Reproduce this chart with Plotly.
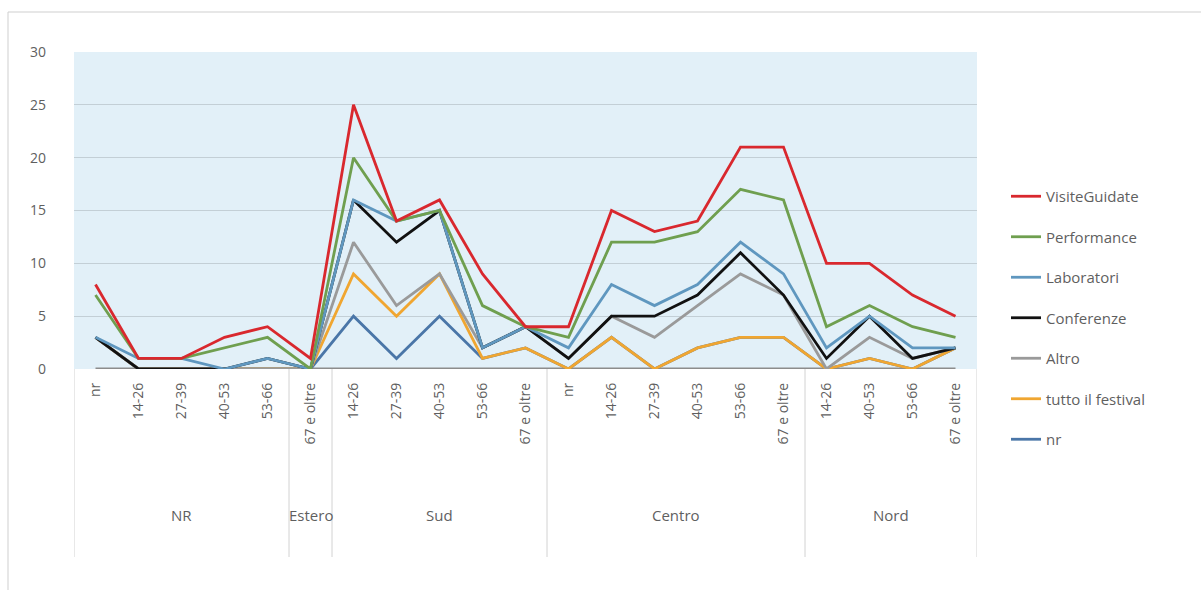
import plotly.graph_objects as go

# Region / age-band categories (two-level x axis)
regions = ["NR"] * 5 + ["Estero"] + ["Sud"] * 5 + ["Centro"] * 6 + ["Nord"] * 4
age_bands = ["nr", "14-26", "27-39", "40-53", "53-66",
             "67 e oltre",
             "14-26", "27-39", "40-53", "53-66", "67 e oltre",
             "nr", "14-26", "27-39", "40-53", "53-66", "67 e oltre",
             "14-26", "40-53", "53-66", "67 e oltre"]

# Counts per activity (stacked line series, bottom to top)
nr_vals            = [3, 0, 0, 0, 0, 0, 5, 1, 5, 1, 2, 0, 3, 0, 2, 3, 3, 0, 1, 0, 2]
tutto_il_festival  = [0, 0, 0, 0, 0, 0, 4, 4, 4, 0, 0, 0, 0, 0, 0, 0, 0, 0, 0, 0, 0]
altro              = [0, 0, 0, 0, 0, 0, 3, 1, 0, 1, 2, 1, 2, 3, 4, 6, 4, 0, 2, 1, 0]
conferenze         = [0, 0, 0, 0, 1, 0, 4, 6, 6, 0, 0, 0, 0, 2, 1, 2, 0, 1, 2, 0, 0]
laboratori         = [0, 1, 1, 0, 0, 0, 0, 2, 0, 0, 0, 1, 3, 1, 1, 1, 2, 1, 0, 1, 0]
performance        = [4, 0, 0, 2, 2, 0, 4, 0, 0, 4, 0, 1, 4, 6, 5, 5, 7, 2, 1, 2, 1]
visite_guidate     = [1, 0, 0, 1, 1, 1, 5, 0, 1, 3, 0, 1, 3, 1, 1, 4, 5, 6, 4, 3, 2]

series = [
    ("nr", nr_vals, "#4a76a8"),
    ("tutto il festival", tutto_il_festival, "#f0a631"),
    ("Altro", altro, "#9a9a9a"),
    ("Conferenze", conferenze, "#111111"),
    ("Laboratori", laboratori, "#5f97bf"),
    ("Performance", performance, "#6f9f4f"),
    ("VisiteGuidate", visite_guidate, "#d9282e"),
]

FONT = "Open Sans"
TXT = "#5f5f5f"

# unique category keys: "region|age band"
keys = [f"{r}|{a}" for r, a in zip(regions, age_bands)]
n = len(keys)

fig = go.Figure()
for rank, (name, vals, color) in zip(range(len(series), 0, -1), series):
    fig.add_trace(go.Scatter(
        x=keys, y=vals, name=name,
        mode="lines", stackgroup="act", fill="none",
        line=dict(color=color, width=2.8),
        legendgroup=name, legendrank=rank,
    ))

# plot area spans pixels x 74..977, y 52..369
L, R, T, B = 74, 977, 52, 369
W, H = 1201, 590
def px(xp):
    return (xp - L) / (R - L)
def py(yp):
    return (B - yp) / (B - T)

# group spans along the category axis
groups = []
for i, r in enumerate(regions):
    if groups and groups[-1][0] == r:
        groups[-1][2] = i
    else:
        groups.append([r, i, i])

shapes = [
    # outer frame
    dict(type="line", xref="paper", yref="paper",
         x0=px(8), x1=px(1201), y0=py(12), y1=py(12),
         line=dict(color="#cfcfcf", width=1)),
    dict(type="line", xref="paper", yref="paper",
         x0=px(8), x1=px(8), y0=py(12), y1=py(590),
         line=dict(color="#cfcfcf", width=1)),
    # heavy baseline under the series
    dict(type="line", xref="x", yref="y", x0=0, x1=n - 1, y0=0, y1=0,
         line=dict(color="#8c8c8c", width=3), layer="below"),
]
annotations = []
bounds = [g[1] - 0.5 for g in groups] + [groups[-1][2] + 0.5]
for b in bounds:
    shapes.append(dict(type="line", xref="x", yref="paper", x0=b, x1=b,
                       y0=0, y1=py(557), line=dict(color="#d2d2d2", width=1)))
for name, i0, i1 in groups:
    annotations.append(dict(
        x=(i0 + i1) / 2, y=py(515), xref="x", yref="paper",
        text=name, showarrow=False, xanchor="center", yanchor="middle",
        font=dict(family=FONT, size=15, color=TXT),
    ))

fig.update_layout(
    width=W, height=H,
    margin=dict(l=L, r=W - R, t=T, b=H - B),
    paper_bgcolor="white",
    plot_bgcolor="#e2f0f8",
    font=dict(family=FONT, size=14, color=TXT),
    showlegend=True,
    legend=dict(
        x=px(1006), xanchor="left", y=py(180), yanchor="top",
        traceorder="grouped", tracegroupgap=18,
        font=dict(family=FONT, size=15, color=TXT),
        bgcolor="rgba(0,0,0,0)",
    ),
    shapes=shapes,
    annotations=annotations,
)

fig.update_yaxes(
    range=[0, 30], dtick=5, showgrid=True, gridcolor="#c3cfd6", gridwidth=1,
    zeroline=False, showline=False, ticks="",
    ticklabelstandoff=27,
    tickfont=dict(family=FONT, size=14, color=TXT),
)
fig.update_xaxes(
    type="category", range=[-0.5, n - 0.5],
    tickmode="array", tickvals=keys, ticktext=age_bands,
    tickangle=-90, showgrid=False, showline=False, zeroline=False,
    ticks="", ticklabelstandoff=10,
    tickfont=dict(family=FONT, size=14, color=TXT),
)

fig.write_html("out.html")
